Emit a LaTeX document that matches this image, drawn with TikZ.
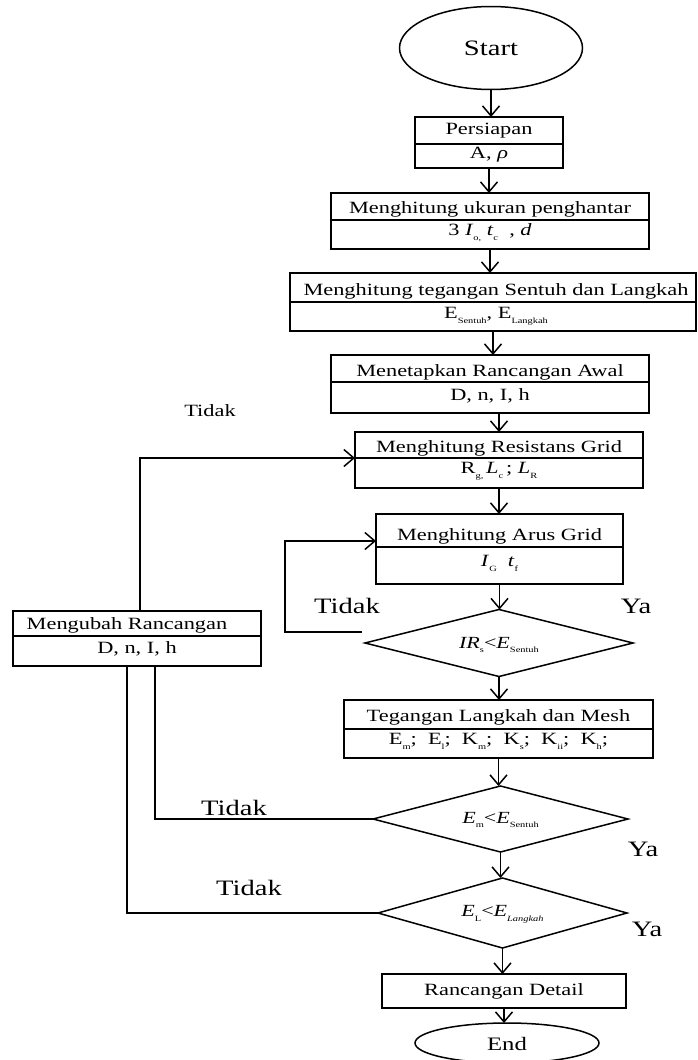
\documentclass[tikz,border=0pt]{standalone}
\usepackage{fontspec}
\setmainfont{Liberation Serif}[FakeStretch=1.3]
\usetikzlibrary{shapes.geometric,arrows.meta,calc}
\newcommand\sbs[1]{\raisebox{-0.28em}{\fontsize{8}{9}\selectfont #1}}
\newcommand\bsz{\fontsize{17.2}{19}\selectfont}
\newcommand\lsz{\fontsize{22}{24}\selectfont}
\tikzset{
  shp/.style={draw, line width=1.5pt, inner sep=0pt, outer sep=0pt},
  boxnode/.style={shp, rectangle},
  dia/.style={shp, diamond},
  ell/.style={shp, ellipse},
  txt/.style={inner sep=0pt, font=\bsz},
  dtxt/.style={inner sep=0pt, font=\fontsize{17}{19}\selectfont},
  lbl/.style={inner sep=0pt, font=\lsz},
  divl/.style={line width=1.5pt},
  arr/.style={-{Straight Barb[length=10pt,width=17pt]}, line width=1.5pt},
  ln/.style={line width=1.5pt}
}
\begin{document}
\begin{tikzpicture}[x=1pt,y=-1pt]
\useasboundingbox[fill=white] (0,0) rectangle (698,1060);
\begin{scope}
\clip (0,0) rectangle (698,1060);
% start / end
\node[ell, minimum width=183pt, minimum height=83pt] (st) at (491,48) {};
\node[lbl] (stt) at (491,48) {Start};
\node[ell, minimum width=184pt, minimum height=40pt] (en) at (507,1043) {};
\node[inner sep=0pt, font=\fontsize{19}{21}\selectfont] (ent) at (507,1044) {End};
% boxes
\node[boxnode, minimum width=148pt, minimum height=51pt] (b1) at (489,142.5) {};
\draw[divl] ([yshift=-1.5pt]b1.west) -- ([yshift=-1.5pt]b1.east);
\node[txt] (b1a) at (489,131) {Persiapan};
\node[txt] (b1b) at (489,155) {A, \textit{ρ}};

\node[boxnode, minimum width=318pt, minimum height=56pt] (b2) at (490,221) {};
\draw[divl] ([yshift=1pt]b2.west) -- ([yshift=1pt]b2.east);
\node[txt] (b2a) at (490,209) {Menghitung ukuran penghantar};
\node[txt] (b2b) at (490,233) {3 \textit{I}\sbs{o,}~\textit{t}\sbs{c}~ , \textit{d}};

\node[boxnode, minimum width=406pt, minimum height=58pt] (b3) at (493,302) {};
\draw[divl] (b3.west) -- (b3.east);
\node[txt] (b3a) at (496,291) {Menghitung tegangan Sentuh dan Langkah};
\node[txt] (b3b) at (496,316) {E\sbs{Sentuh}, E\sbs{Langkah}};

\node[boxnode, minimum width=318pt, minimum height=58pt] (b4) at (490,384) {};
\draw[divl] ([yshift=2pt]b4.west) -- ([yshift=2pt]b4.east);
\node[txt] (b4a) at (490,372) {Menetapkan Rancangan Awal};
\node[txt] (b4b) at (490,396) {D, n, I, h};

\node[boxnode, minimum width=288pt, minimum height=56pt] (b5) at (499,460) {};
\draw[divl] ([yshift=2pt]b5.west) -- ([yshift=2pt]b5.east);
\node[txt] (b5a) at (499,448) {Menghitung Resistans Grid};
\node[txt] (b5b) at (499,471) {R\sbs{g,}\,\textit{L}\sbs{c}\,; \textit{L}\sbs{R}};

\node[boxnode, minimum width=247pt, minimum height=70pt] (b6) at (499.5,549) {};
\draw[divl] ([yshift=2pt]b6.west) -- ([yshift=2pt]b6.east);
\node[txt] (b6a) at (499.5,536) {Menghitung Arus Grid};
\node[txt] (b6b) at (499.5,563) {\textit{I}\sbs{G}~~\textit{t}\sbs{f}};

\node[dia, minimum width=268pt, minimum height=67pt] (d1) at (499,643) {};
\node[dtxt] (d1t) at (499,645) {\textit{IR}\sbs{s}<\textit{E}\sbs{Sentuh}};

\node[boxnode, minimum width=309pt, minimum height=58pt] (b7) at (498.5,729) {};
\draw[divl] (b7.west) -- (b7.east);
\node[txt] (b7a) at (498.5,717) {Tegangan Langkah dan Mesh};
\node[txt] (b7b) at (498.5,741) {E\sbs{m};~ E\sbs{l};~ K\sbs{m};~ K\sbs{s};~ K\sbs{ii};~ K\sbs{h};};

\node[dia, minimum width=255pt, minimum height=66pt] (d2) at (500.5,819) {};
\node[dtxt] (d2t) at (500.5,820) {\textit{E}\sbs{m}<\textit{E}\sbs{Sentuh}};

\node[dia, minimum width=249pt, minimum height=70pt] (d3) at (502.5,913) {};
\node[dtxt] (d3t) at (502.5,914) {\textit{E}\sbs{L}<\textit{E}\sbs{\textit{Langkah}}};

\node[boxnode, minimum width=244pt, minimum height=34pt] (rd) at (504,991) {};
\node[txt] (rdt) at (504,991) {Rancangan Detail};

\node[boxnode, minimum width=248pt, minimum height=55pt] (mu) at (137,638.5) {};
\draw[divl] ([yshift=2.5pt]mu.west) -- ([yshift=2.5pt]mu.east);
\node[txt] (mua) at (127,625) {Mengubah Rancangan};
\node[txt] (mub) at (137,649) {D, n, I, h};

% labels
\node[txt] (l0) at (210,411) {Tidak};
\node[lbl] (l1) at (347,606) {Tidak};
\node[lbl] (l2) at (636,606) {Ya};
\node[lbl] (l3) at (234,808) {Tidak};
\node[lbl] (l4) at (643,849) {Ya};
\node[lbl] (l5) at (249,888) {Tidak};
\node[lbl] (l6) at (647,929) {Ya};

% main flow
\draw[arr] (st.south) -- (st.south |- b1.north);
\draw[arr] (b1.south) -- (b1.south |- b2.north);
\draw[arr] (b2.south) -- (b2.south |- b3.north);
\draw[arr] (b3.south) -- (b3.south |- b4.north);
\draw[arr] (b5.north |- b4.south) -- (b5.north);
\draw[arr] (b5.south) -- (b5.south |- b6.north);
\draw[arr] (b6.south) -- (b6.south |- d1.north);
\draw[arr] (d1.south) -- (d1.south |- b7.north);
\draw[arr] (b7.south) -- (b7.south |- d2.north);
\draw[arr] (d2.south) -- (d2.south |- d3.north);
\draw[arr] (d3.south) -- (d3.south |- rd.north);
\draw[arr] (rd.south) -- (rd.south |- en.north);

% loops
\coordinate (c1) at (362,632);
\draw[arr] (c1) -- ++(-77,0) |- ([yshift=8pt]b6.west);
\draw[arr] ([xshift=3pt]mu.north) |- ([yshift=2pt]b5.west);
\draw[ln] (d2.west) -| ([xshift=18pt]mu.south);
\draw[ln] (d3.west) -| ([xshift=-10pt]mu.south);
\end{scope}
\end{tikzpicture}
\end{document}
